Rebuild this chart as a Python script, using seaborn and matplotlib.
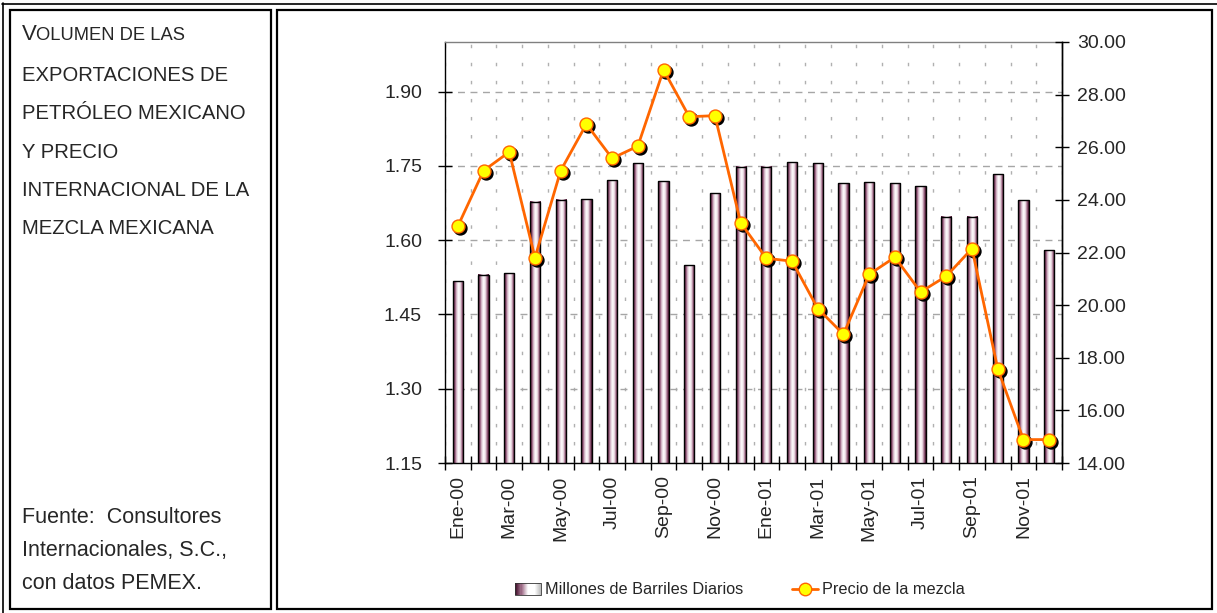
import numpy as np
import pandas as pd
import matplotlib
matplotlib.use('Agg')
import matplotlib.pyplot as plt
import seaborn as sns
from matplotlib import transforms
from matplotlib.patches import Rectangle
from matplotlib.lines import Line2D
from matplotlib.colors import LinearSegmentedColormap
from matplotlib.legend_handler import HandlerBase

# Data
meses = ['Ene-00', 'Feb-00', 'Mar-00', 'Abr-00', 'May-00', 'Jun-00',
         'Jul-00', 'Ago-00', 'Sep-00', 'Oct-00', 'Nov-00', 'Dic-00',
         'Ene-01', 'Feb-01', 'Mar-01', 'Abr-01', 'May-01', 'Jun-01',
         'Jul-01', 'Ago-01', 'Sep-01', 'Oct-01', 'Nov-01', 'Dic-01']
barriles = [1.517, 1.530, 1.533, 1.677, 1.682, 1.683,
            1.721, 1.755, 1.719, 1.549, 1.695, 1.748,
            1.748, 1.757, 1.755, 1.715, 1.717, 1.715,
            1.709, 1.647, 1.647, 1.733, 1.680, 1.580]
precio = [23.00, 25.11, 25.82, 21.80, 25.11, 26.88,
          25.58, 26.04, 28.94, 27.16, 27.20, 23.13,
          21.78, 21.67, 19.87, 18.89, 21.17, 21.82,
          20.50, 21.10, 22.15, 17.58, 14.89, 14.89]
yticks_izq = [1.15, 1.30, 1.45, 1.60, 1.75, 1.90]
yticks_der = [14, 16, 18, 20, 22, 24, 26, 28, 30]

titulo = ['EXPORTACIONES DE', 'PETRÓLEO MEXICANO', 'Y PRECIO',
          'INTERNACIONAL DE LA', 'MEZCLA MEXICANA']
fuente = ['Fuente:  Consultores', 'Internacionales, S.C.,', 'con datos PEMEX.']

df = pd.DataFrame({'pos': np.arange(len(meses)), 'mes': meses,
                   'barriles': barriles, 'precio': precio})

sns.set_theme(style='white')
plt.rcParams['font.family'] = ['Liberation Sans', 'DejaVu Sans']

W, H = 1217, 613
fig = plt.figure(figsize=(W / 100, H / 100), dpi=100)

def fx(px):
    return px / W

def fy(py):
    return 1 - py / H

# frames
fig.add_artist(Line2D([fx(2), fx(1217)], [fy(4), fy(4)], color='black', lw=1.2))
fig.add_artist(Line2D([fx(3), fx(3)], [fy(3), fy(613)], color='black', lw=1.2))
fig.add_artist(Rectangle((fx(10), fy(609)), fx(271) - fx(10), fy(10) - fy(609),
                         fill=False, edgecolor='black', lw=1.6))
fig.add_artist(Rectangle((fx(277), fy(609)), fx(1212) - fx(277), fy(10) - fy(609),
                         fill=False, edgecolor='black', lw=1.6))

# left panel text
fig.text(fx(22), fy(40), 'V', fontsize=16, va='baseline')
fig.text(fx(36), fy(40), 'OLUMEN DE LAS', fontsize=13.2, va='baseline')
for i, t in enumerate(titulo):
    fig.text(fx(22), fy(81 + 38.3 * i), t, fontsize=14.6, va='baseline')
for i, t in enumerate(fuente):
    fig.text(fx(22), fy(523 + 33 * i), t, fontsize=15.5, va='baseline')

# bars
ax = fig.add_axes([fx(445), fy(463), fx(1062) - fx(445), fy(42) - fy(463)])
sns.barplot(data=df, x='pos', y='barriles', ax=ax, width=0.4, color='#8b4a6b',
            edgecolor='black', linewidth=1, zorder=3, native_scale=True)

cmap_barra = LinearSegmentedColormap.from_list(
    'barra', ['#3d0a26', '#8a4b6e', '#dcc3d1', '#ffffff', '#efe2e9', '#a36c8a', '#3d0a26'])
grad = np.linspace(0, 1, 64).reshape(1, -1)
for p in ax.patches:
    x0, w, h = p.get_x(), p.get_width(), p.get_height()
    p.set_facecolor('none')
    ax.imshow(grad, cmap=cmap_barra, extent=[x0, x0 + w, 1.15, h],
              aspect='auto', zorder=2.5, interpolation='bilinear')

ax.set_xlim(-0.5, len(meses) - 0.5)
ax.set_ylim(1.15, 2.0)
ax.set_axisbelow(True)
ax.set_xticks(np.arange(-0.5, len(meses), 1))
ax.set_xticklabels([])
ax.set_xticks(np.arange(0, len(meses), 2), minor=True)
ax.set_xticklabels(meses[::2], minor=True, rotation=90, fontsize=14)
ax.tick_params(axis='x', which='major', direction='inout', length=10, width=1,
               color='black', bottom=True)
ax.tick_params(axis='x', which='minor', length=0, pad=9, bottom=True)
ax.set_yticks(yticks_izq)
ax.set_yticklabels([f'{v:.2f}' for v in yticks_izq], fontsize=14)
ax.tick_params(axis='y', direction='inout', length=10, width=1, pad=11.5,
               color='black', left=True)
ax.set_xlabel('')
ax.set_ylabel('')
ax.grid(axis='y', which='major', ls=(0, (5, 4)), color='#a6a6a6', lw=1)
ax.grid(axis='x', which='major', ls=(0, (2.5, 10.5)), color='#b0b0b0', lw=1)
ax.grid(axis='x', which='minor', visible=False)
for s in ['left', 'bottom', 'right']:
    ax.spines[s].set_color('black')
    ax.spines[s].set_linewidth(1)
ax.spines['top'].set_color('#808080')
ax.spines['top'].set_linewidth(1)

# price line on the right axis
ax2 = ax.twinx()
sombra = transforms.offset_copy(ax2.transData, fig=fig, x=2, y=-2, units='dots')
ax2.plot(df['pos'], df['precio'], ls='none', marker='o', ms=9.3, color='black',
         transform=sombra, zorder=2)
sns.lineplot(data=df, x='pos', y='precio', ax=ax2, color='#ff6600', lw=2,
             marker='o', markersize=9.3, markerfacecolor='#ffff00',
             markeredgecolor='#ff6600', markeredgewidth=1, zorder=3)
ax2.set_ylim(14, 30)
ax2.set_yticks(yticks_der)
ax2.set_yticklabels([f'{v:.2f}' for v in yticks_der], fontsize=14)
ax2.tick_params(axis='y', direction='inout', length=10, width=1, pad=5.6,
                color='black', right=True)
ax2.set_xlabel('')
ax2.set_ylabel('')
ax2.grid(False)
for s in ['left', 'bottom', 'top']:
    ax2.spines[s].set_visible(False)
ax2.spines['right'].set_color('black')
ax2.spines['right'].set_linewidth(1)

# legend
cmap_leyenda = LinearSegmentedColormap.from_list(
    'leyenda', ['#3d0a26', '#a87892', '#ffffff', '#ffffff', '#bdbdbd'])

class Degradado(HandlerBase):
    def create_artists(self, legend, orig_handle, xdescent, ydescent,
                       width, height, fontsize, trans):
        n = 24
        piezas = []
        for i in range(n):
            piezas.append(Rectangle((-xdescent + width * i / n, -ydescent), width / n + 0.3,
                                    height, facecolor=cmap_leyenda(i / (n - 1)),
                                    edgecolor='none', transform=trans))
        piezas.append(Rectangle((-xdescent, -ydescent), width, height, fill=False,
                                edgecolor='#333333', lw=0.6, transform=trans))
        return piezas

h_barra = Rectangle((0, 0), 1, 1)
h_linea = Line2D([], [], color='#ff6600', lw=2, marker='o', ms=9,
                 markerfacecolor='#ffff00', markeredgecolor='#ff6600')
fig.legend([h_barra, h_linea], ['Millones de Barriles Diarios', 'Precio de la mezcla'],
           loc='center', bbox_to_anchor=(fx(740), fy(590)), ncol=2, frameon=False,
           fontsize=11.7, columnspacing=3.0, handlelength=1.6, handletextpad=0.25,
           handler_map={Rectangle: Degradado()})

plt.savefig('out.png', dpi=100)
